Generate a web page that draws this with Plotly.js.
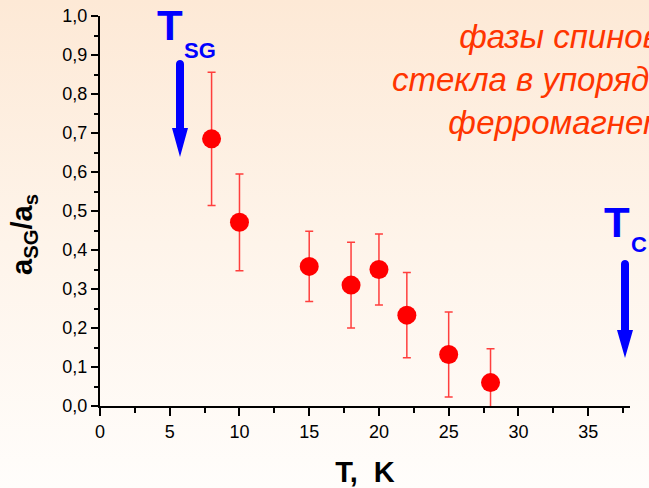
<!DOCTYPE html>
<html>
<head>
<meta charset="utf-8">
<script src="https://cdn.plot.ly/plotly-3.0.1.min.js"></script>
<style>
  html, body { margin:0; padding:0; }
  body { width:649px; height:488px; overflow:hidden;
         background: linear-gradient(to bottom, #fde9d6 0%, #fef4ea 50%, #fffdfb 100%); }
  #chart { width:649px; height:488px; }
</style>
</head>
<body>
<div id="chart"></div>
<script>
// Data
const temperature = [8, 10, 15, 18, 20, 22, 25, 28];
const ratio       = [0.685, 0.471, 0.358, 0.310, 0.350, 0.233, 0.132, 0.060];
const ratioError  = [0.171, 0.124, 0.090, 0.110, 0.091, 0.109, 0.109, 0.087];

const xTitle = 'T,  K';
const yTitle = 'a<sub>SG</sub>/a<sub>s</sub>';
const noteLines = ['фазы спинового', 'стекла в упорядоченном', 'ферромагнетике'];

const FONT = 'Arial, "Liberation Sans", sans-serif';

// helper: arrow path in paper coords (px converted)
const L = 100, R = 630, B = 406, T = 16;
function px(x) { return (x - L) / (R - L); }
function py(y) { return (B - y) / (B - T); }
function arrowPath(cx, top, headBase, tip) {
  const hs = 4, hh = 8;
  const st = top + 4;
  const k = 5.3;
  return 'M' + px(cx - hs) + ',' + py(headBase) +
         ' L' + px(cx - hs) + ',' + py(st) +
         ' C' + px(cx - hs) + ',' + py(st - k) + ' ' + px(cx + hs) + ',' + py(st - k) + ' ' + px(cx + hs) + ',' + py(st) +
         ' L' + px(cx + hs) + ',' + py(headBase) +
         ' L' + px(cx + hh) + ',' + py(headBase) +
         ' L' + px(cx) + ',' + py(tip) +
         ' L' + px(cx - hh) + ',' + py(headBase) + ' Z';
}

const trace = {
  x: temperature,
  y: ratio,
  type: 'scatter',
  mode: 'markers',
  marker: { color: '#ff0000', size: 19, line: { width: 0 } },
  error_y: { type: 'data', array: ratioError, visible: true,
             color: 'rgba(255,30,30,0.85)', thickness: 1.5, width: 4 },
  showlegend: false,
  hoverinfo: 'skip'
};

const axisCommon = {
  showline: true, linecolor: '#000', linewidth: 2,
  ticks: 'outside', tickcolor: '#000', tickwidth: 2,
  showgrid: false, zeroline: false,
  tickfont: { family: FONT, size: 18, color: '#000' }
};

const layout = {
  width: 649, height: 488,
  margin: { l: L, r: 649 - R, t: T, b: 488 - B },
  paper_bgcolor: 'rgba(0,0,0,0)',
  plot_bgcolor: 'rgba(0,0,0,0)',
  separators: ', ',
  xaxis: Object.assign({}, axisCommon, {
    range: [0, 38], dtick: 5, tick0: 0, ticklen: 8,
    minor: { dtick: 2.5, ticks: 'outside', ticklen: 5, tickcolor: '#000', tickwidth: 2 },
    title: { text: '<b>' + xTitle + '</b>', font: { family: FONT, size: 29, color: '#000' }, standoff: 22 }
  }),
  yaxis: Object.assign({}, axisCommon, {
    range: [0, 1], dtick: 0.1, tick0: 0, ticklen: 7, tickformat: '.1f',
    minor: { dtick: 0.05, ticks: 'outside', ticklen: 4, tickcolor: '#000', tickwidth: 2 }
  }),
  shapes: [
    { type: 'path', xref: 'paper', yref: 'paper', path: arrowPath(180, 60, 128, 157),
      fillcolor: '#0000ff', line: { width: 0 } },
    { type: 'path', xref: 'paper', yref: 'paper', path: arrowPath(625, 260, 330, 358),
      fillcolor: '#0000ff', line: { width: 0 } }
  ],
  annotations: [
    { xref: 'paper', yref: 'paper', x: px(24), y: py(235), text: '<b>' + yTitle + '</b>',
      textangle: -90, showarrow: false, xanchor: 'center', yanchor: 'middle',
      font: { family: FONT, size: 29, color: '#000' } },
    { xref: 'paper', yref: 'paper', x: px(170), y: py(25), text: '<b>T</b>', showarrow: false,
      xanchor: 'center', yanchor: 'middle', font: { family: FONT, size: 42, color: '#0000ff' } },
    { xref: 'paper', yref: 'paper', x: px(200), y: py(50), text: '<b>SG</b>', showarrow: false,
      xanchor: 'center', yanchor: 'middle', font: { family: FONT, size: 22, color: '#0000ff' } },
    { xref: 'paper', yref: 'paper', x: px(617), y: py(222), text: '<b>T</b>', showarrow: false,
      xanchor: 'center', yanchor: 'middle', font: { family: FONT, size: 42, color: '#0000ff' } },
    { xref: 'paper', yref: 'paper', x: px(638.5), y: py(244.5), text: '<b>C</b>', showarrow: false,
      xanchor: 'center', yanchor: 'middle', font: { family: FONT, size: 22, color: '#0000ff' } },
    { xref: 'paper', yref: 'paper', x: px(585), y: py(79), text: '<i>' + noteLines.join('<br>') + '</i>',
      showarrow: false, xanchor: 'center', yanchor: 'middle', align: 'center',
      font: { family: FONT, size: 33, color: '#ff3500' } }
  ]
};

Plotly.newPlot('chart', [trace], layout, { staticPlot: true, displayModeBar: false });
</script>
</body>
</html>
